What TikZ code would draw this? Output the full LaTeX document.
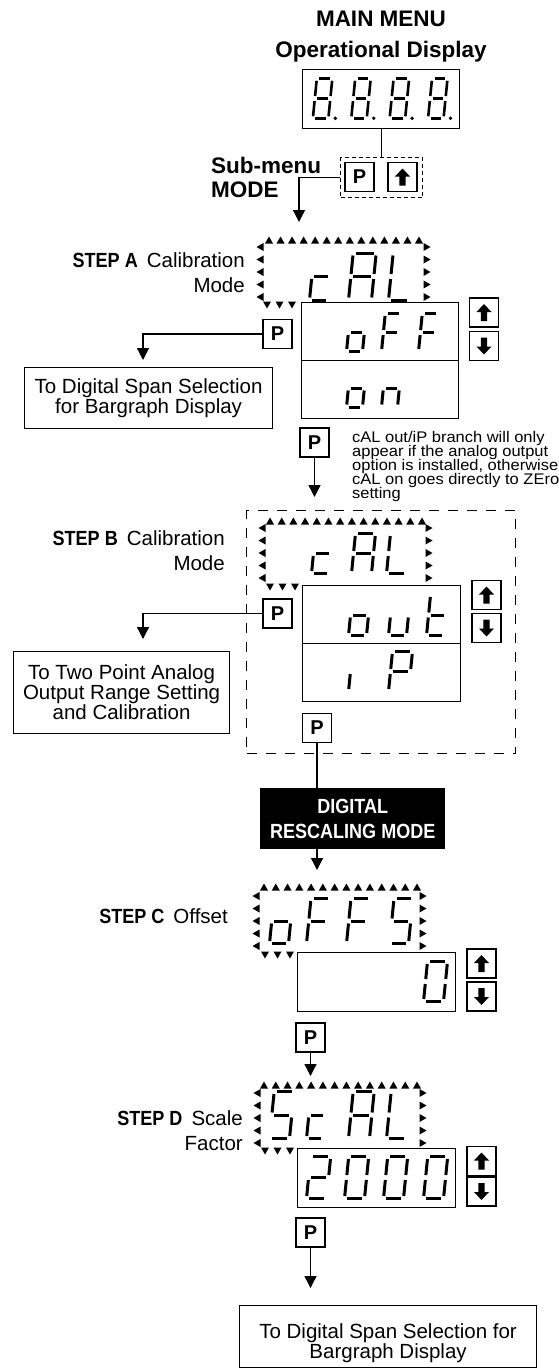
\documentclass[tikz,border=0pt]{standalone}
\usepackage{fontspec}
\setmainfont{Liberation Sans}
\newfontfamily\condsans{Liberation Sans}[FakeStretch=0.88]
\newfontfamily\widesans{Liberation Sans}[FakeStretch=1.07]
\usetikzlibrary{arrows.meta}
\setlength{\lineskiplimit}{-20pt}
\tikzset{
  trup/.pic={\fill (-4,3.5) -- (4,3.5) -- (0,-3.5) -- cycle;},
  trdown/.pic={\fill (-4,-3.5) -- (4,-3.5) -- (0,3.5) -- cycle;},
  trleft/.pic={\fill (3.5,-4) -- (3.5,4) -- (-3.5,0) -- cycle;},
  trright/.pic={\fill (-3.5,-4) -- (-3.5,4) -- (3.5,0) -- cycle;},
  upglyph/.pic={\fill (0,-8.5) -- (7.5,-0.5) -- (3.2,-0.5) -- (3.2,8.5) -- (-3.2,8.5) -- (-3.2,-0.5) -- (-7.5,-0.5) -- cycle;},
  downglyph/.pic={\fill (0,8.5) -- (7.5,0.5) -- (3.2,0.5) -- (3.2,-8.5) -- (-3.2,-8.5) -- (-3.2,0.5) -- (-7.5,0.5) -- cycle;},
  sg a/.style={insert path={(\sgG,-\sgH) -- (\sgW-\sgG,-\sgH)}},
  sg b/.style={insert path={(\sgW,-\sgH+\sgG) -- (\sgW,-\sgH/2-\sgG)}},
  sg c/.style={insert path={(\sgW,-\sgH/2+\sgG) -- (\sgW,-\sgG)}},
  sg d/.style={insert path={(\sgG,0) -- (\sgW-\sgG,0)}},
  sg e/.style={insert path={(0,-\sgH/2+\sgG) -- (0,-\sgG)}},
  sg f/.style={insert path={(0,-\sgH+\sgG) -- (0,-\sgH/2-\sgG)}},
  sg g/.style={insert path={(\sgG,-\sgH/2) -- (\sgW-\sgG,-\sgH/2)}},
  dispbox/.style={draw, line width=1.3pt, inner sep=0pt, anchor=north west},
  pbtn/.style={draw, line width=1.2pt, minimum width=29pt, minimum height=29pt, inner sep=0pt, font=\fontsize{20}{20}\selectfont\bfseries},
  abtn/.style={draw, line width=1.2pt, minimum width=29pt, minimum height=29pt, inner sep=0pt},
  conn/.style={line width=1.3pt},
  arr/.style={conn, -{Triangle[width=12pt,length=12pt]}},
  textbox/.style={draw, line width=1.2pt, inner sep=0pt, align=center, anchor=north west, font=\fontsize{20.5}{20}\selectfont},
  steplabel/.style={inner sep=0pt, align=right, font=\fontsize{20.5}{25}\selectfont},
  bigbold/.style={inner sep=0pt, font=\fontsize{22.5}{24}\selectfont\bfseries},
  titletext/.style={inner sep=0pt, align=center, anchor=north, font=\fontsize{22.5}{31}\selectfont\bfseries},
  notetext/.style={inner sep=0pt, align=left, anchor=north west, font=\fontsize{15.4}{14}\selectfont\widesans},
  blackbox/.style={fill=black, text=white, inner sep=0pt, align=center, anchor=north west, font=\fontsize{20.5}{25}\selectfont\condsans\bfseries},
  groupbox/.style={draw, line width=1.2pt, dash pattern=on 10pt off 9pt, inner sep=0pt, anchor=north west},
}
\newcommand\sevseg[6][3]{%
  \begin{scope}[shift={(#2,#3)}, xslant=0.1]
    \def\sgW{#4}\def\sgH{#5}\def\sgG{2.5}%
    \foreach \s in {#6} {\draw[line width=#1pt, sg \s];}
  \end{scope}}
\newcommand\blinkframe[9]{%
  \foreach \i in {0,...,13} {\pic at ({#2+(#3-#2)*\i/13},#1) {trup};}
  \foreach \i in {0,...,4} {\pic at (#4,{#6+(#7-#6)*\i/4}) {trleft}; \pic at (#5,{#6+(#7-#6)*\i/4}) {trright};}
  \foreach \i in {0,1,2} {\pic at ({#9+12.5*\i},#8) {trdown};}}
\begin{document}
\begin{tikzpicture}[x=1pt, y=-1pt]
\useasboundingbox (0,0) rectangle (558,1370);
% ---------- main menu
\node[titletext] (title) at (381,10.9) {MAIN MENU\\Operational Display};
\node[dispbox, minimum width=157pt, minimum height=59pt] (main) at (302,69) {};
\foreach \xx/\px in {312.8/335.3, 351.2/373.7, 389.6/412.1, 428/450.5} {
  \sevseg[2.6]{\xx}{118.8}{15.5}{40.5}{a,b,c,d,e,f,g}
  \fill (\px,118.3) circle (1.9);
}
\node[draw, line width=1pt, dash pattern=on 4pt off 3pt, minimum width=82pt, minimum height=40pt, anchor=north west, inner sep=0pt] (sub) at (340,157) {};
\node[pbtn] (p0) at (359.5,177) {P};
\node[abtn] (u0) at (402.5,177) {};
\pic at (u0) {upglyph};
\node[bigbold, align=left, anchor=north west] (submode) at (211,156.9) {Sub-menu\\MODE};
\draw[conn] (main.south) -- (main.south |- sub.north);
\coordinate (tA) at (299,222);
\draw[arr] (sub.west) -| (tA);
% ---------- step A
\blinkframe{240}{269}{419}{260}{427}{247}{297}{305}{267}
\node[steplabel, anchor=north east] (labA) at (245,252.3) {{\condsans\bfseries STEP A}\hspace{9pt}Calibration\\Mode};
\sevseg{309.5}{300}{19}{47}{g,e,d}
\sevseg{348.5}{300}{23}{47}{a,b,c,e,f,g}
\sevseg{388.5}{300}{21}{47}{f,e,d}
\node[dispbox, minimum width=157pt, minimum height=58pt] (subA1) at (301,302) {};
\node[dispbox, minimum width=157pt, minimum height=58pt] (subA2) at (301,360) {};
\sevseg{346.5}{351.5}{16}{38}{g,c,d,e}
\sevseg{381.5}{351.5}{16}{38}{a,f,g,e}
\sevseg{418.5}{351.5}{16}{38}{a,f,g,e}
\sevseg{346.5}{407}{16}{38}{g,c,d,e}
\sevseg{381.5}{407}{16}{38}{g,e,c}
\node[abtn] (uA) at (484,312.5) {}; \pic at (uA) {upglyph};
\node[abtn] (dA) at (484,346) {}; \pic at (dA) {downglyph};
\node[pbtn] (pA) at (277.5,334) {P};
\coordinate (tA1) at (143,360);
\draw[arr] (pA.west) -| (tA1);
\node[textbox, minimum width=248pt, minimum height=61pt] (toA) at (24,367) {To Digital Span Selection\\for Bargraph Display};
\node[notetext] (note) at (352,431) {cAL out/iP branch will only\\appear if the analog output\\option is installed, otherwise\\cAL on goes directly to ZEro\\setting};
\node[pbtn] (pA2) at (314.5,442.5) {P};
\coordinate (tA2) at (314.5,497);
\draw[arr] (pA2.south) -- (tA2);
% ---------- step B
\node[groupbox, minimum width=269pt, minimum height=243pt] (grpB) at (246,510) {};
\blinkframe{521}{270}{422}{262}{429}{528}{578}{587}{270}
\node[steplabel, anchor=north east] (labB) at (225,530.3) {{\condsans\bfseries STEP B}\hspace{9pt}Calibration\\Mode};
\sevseg{311.5}{573.5}{18}{40}{g,e,d}
\sevseg{351.5}{573.5}{20}{40}{a,b,c,e,f,g}
\sevseg{386.5}{573.5}{20}{40}{f,e,d}
\node[dispbox, minimum width=158pt, minimum height=58pt] (subB1) at (302,585) {};
\node[dispbox, minimum width=158pt, minimum height=58pt] (subB2) at (302,643) {};
\sevseg{348.5}{635.5}{18}{41}{g,c,d,e}
\sevseg{388.5}{635.5}{18}{41}{e,d,c}
\sevseg{426.5}{635.5}{18}{41}{f,e,d,g}
\sevseg{348.5}{691.5}{20}{40}{e}
\sevseg{388.5}{691.5}{20}{40}{a,b,f,g,e}
\node[abtn] (uB) at (486.5,595) {}; \pic at (uB) {upglyph};
\node[abtn] (dB) at (486.5,628) {}; \pic at (dB) {downglyph};
\node[pbtn] (pB) at (277.5,613.5) {P};
\coordinate (tB1) at (143,639);
\draw[arr] (pB.west) -| (tB1);
\node[textbox, minimum width=216pt, minimum height=82pt] (toB) at (13,651) {To Two Point Analog\\Output Range Setting\\and Calibration};
\node[pbtn] (pB2) at (317,728) {P};
% ---------- digital rescaling
\node[blackbox, minimum width=185pt, minimum height=61pt] (dig) at (260,788) {DIGITAL\\RESCALING MODE};
\draw[conn] (pB2.south) -- (pB2.south |- dig.north);
\coordinate (tB2) at (317,870);
\draw[arr] (pB2.south |- dig.south) -- (tB2);
% ---------- step C
\blinkframe{887}{264}{417}{256}{423}{896}{946}{955}{265}
\node[steplabel, anchor=base east] (labC) at (228,923) {{\condsans\bfseries STEP C}\hspace{9pt}Offset};
\sevseg{269.5}{943.5}{19}{45}{g,c,d,e}
\sevseg{306.5}{943.5}{19}{45}{a,f,g,e}
\sevseg{346.5}{943.5}{19}{45}{a,f,g,e}
\sevseg{389.5}{943.5}{19}{45}{a,f,g,c,d}
\node[dispbox, minimum width=158pt, minimum height=59pt] (subC) at (297,952) {};
\sevseg{423.5}{1001.5}{20}{40}{a,b,c,d,e,f}
\node[abtn] (uC) at (481.5,963.5) {}; \pic at (uC) {upglyph};
\node[abtn] (dC) at (481.5,996.5) {}; \pic at (dC) {downglyph};
\node[pbtn] (pC) at (310.5,1037.5) {P};
\coordinate (tC) at (310.5,1076);
\draw[arr] (pC.south) -- (tC);
% ---------- step D
\blinkframe{1085}{264}{417}{257}{423}{1093}{1143}{1151}{265}
\node[steplabel, anchor=north east] (labD) at (243,1110.3) {{\condsans\bfseries STEP D}\hspace{9pt}Scale\\Factor};
\sevseg{269.5}{1138.5}{20}{47}{a,f,g,c,d}
\sevseg{306.5}{1138.5}{17}{47}{g,e,d}
\sevseg{348.5}{1138.5}{21}{47}{a,b,c,e,f,g}
\sevseg{386.5}{1138.5}{20}{47}{f,e,d}
\node[dispbox, minimum width=158pt, minimum height=59pt] (subD) at (297,1148) {};
\sevseg{306.5}{1198.5}{20}{42}{a,b,g,e,d}
\sevseg{344.5}{1198.5}{20}{42}{a,b,c,d,e,f}
\sevseg{383.5}{1198.5}{20}{42}{a,b,c,d,e,f}
\sevseg{423.5}{1198.5}{20}{42}{a,b,c,d,e,f}
\node[abtn] (uD) at (481.5,1161) {}; \pic at (uD) {upglyph};
\node[abtn] (dD) at (481.5,1191.5) {}; \pic at (dD) {downglyph};
\node[pbtn] (pD) at (310.5,1232.5) {P};
\coordinate (tD) at (310.5,1288);
\draw[arr] (pD.south) -- (tD);
\node[textbox, minimum width=297pt, minimum height=62pt] (final) at (239,1305) {\rule{0pt}{28.3pt}To Digital Span Selection for\\Bargraph Display};
\end{tikzpicture}
\end{document}
